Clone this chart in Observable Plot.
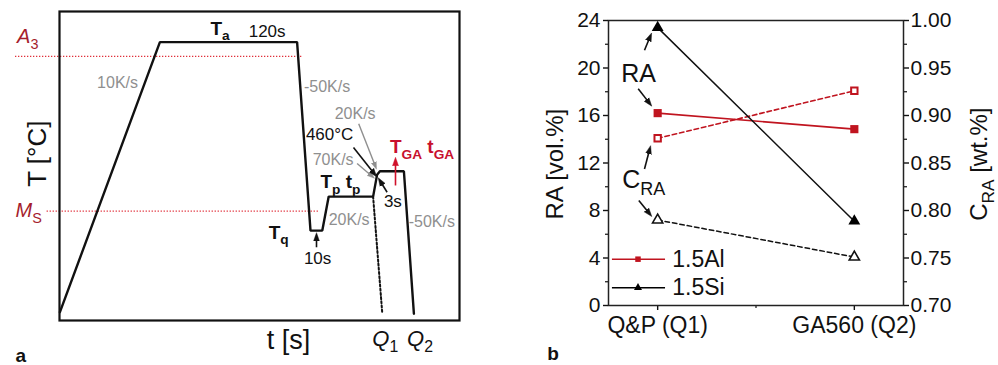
<!DOCTYPE html>
<html>
<head>
<meta charset="utf-8">
<script src="https://cdn.jsdelivr.net/npm/d3@7"></script>
<script src="https://cdn.jsdelivr.net/npm/@observablehq/plot@0.6"></script>
<style>
  html, body { margin: 0; padding: 0; background: #fff; }
  #wrap { position: relative; width: 998px; height: 365px; overflow: hidden; }
  #pa { position: absolute; left: 0; top: 0; }
  #pb { position: absolute; left: 540px; top: 0; }
  svg { display: block; }
</style>
</head>
<body>
<div id="wrap"><div id="pa"></div><div id="pb"></div></div>
<script>
// ---------- Panel a: schematic heat-treatment cycle (normalized units 0–100) ----------
const cycleTime = [0.1, 25.1, 59.4, 62.75, 65.7, 67.3, 78.4, 79.4, 80.1, 86.1, 88.6];
const cycleTemp = [2.7, 90.1, 90.1, 29.1, 29.1, 40.1, 40.1, 47.2, 48.3, 48.3, 2.2];
const q1Time = [78.4, 80.7];
const q1Temp = [40.1, 2.2];
const a3Level = 85.5, a3Span = [-11, 60.9];
const msLevel = 35.4, msSpan = [-3.1, 64.8];

const blackLabelsA = [
  {label: "120s", x: 47.3, y: 93.6},
  {label: "460°C", x: 61.6, y: 60.3},
  {label: "3s", x: 81.1, y: 38.5},
  {label: "10s", x: 61.1, y: 20.1}
];
const boldLabelsA = [
  {label: "T_{a}", x: 37.75, y: 94.5},
  {label: "T_{p} t_{p}", x: 65.25, y: 44.8},
  {label: "T_{q}", x: 52.3, y: 28.5}
];
const grayLabelsA = [
  {label: "10K/s", x: 9.4, y: 76.8},
  {label: "-50K/s", x: 61.1, y: 75.5},
  {label: "20K/s", x: 68.8, y: 66.9},
  {label: "70K/s", x: 63.3, y: 51.9},
  {label: "20K/s", x: 67.3, y: 32.5},
  {label: "-50K/s", x: 87.3, y: 31.8}
];
const redBoldLabelsA = [{label: "T_{GA} t_{GA}", x: 82.6, y: 56.2}];
const phaseLabelsA = [
  {label: "A_{3}", x: -10.6, y: 91.8},
  {label: "M_{S}", x: -11, y: 35.7}
];
const quenchLabelsA = [
  {label: "Q_{1}", x: 78.2, y: -5.9},
  {label: "Q_{2}", x: 86.9, y: -5.9}
];
const blackArrowsA = [
  {x1: 64.25, y1: 23.7, x2: 64.25, y2: 27.4},
  {x1: 73.5, y1: 56.0, x2: 78.8, y2: 47.3},
  {x1: 81.9, y1: 41.5, x2: 80.1, y2: 45.3}
];
const grayArrowsA = [
  {x1: 74.8, y1: 63.7, x2: 79.0, y2: 49.8},
  {x1: 74.4, y1: 50.8, x2: 78.2, y2: 46.6}
];
const redArrowsA = [{x1: 84, y1: 43.7, x2: 84, y2: 51.8}];

// ---------- Panel b data ----------
const conditions = ["Q&P (Q1)", "GA560 (Q2)"];
const condPos = [0, 1];
const raAl = [16.2, 14.85];     // RA [vol.%], 1.5Al
const raSi = [23.4, 7.1];       // RA [vol.%], 1.5Si
const craAl = [0.876, 0.926];   // C_RA [wt.%], 1.5Al
const craSi = [0.790, 0.751];   // C_RA [wt.%], 1.5Si
const raTicks = [0, 4, 8, 12, 16, 20, 24];
const raMinor = [2, 6, 10, 14, 18, 22];
const craTicks = [0.70, 0.75, 0.80, 0.85, 0.90, 0.95, 1.00];
const craDomain = [0.70, 1.00];

const FONT = "Liberation Sans, Arial, Helvetica, sans-serif";
const RED = "#c0141f";
const DARKRED = "#a51d2d";
const GRAY = "#8f8f8f";

const craToRa = c => (c - craDomain[0]) / (craDomain[1] - craDomain[0]) * 24;

function subscripts(svg) {
  d3.select(svg).selectAll("text").each(function () {
    const s = this.textContent;
    if (!s.includes("_{")) return;
    const parts = s.split(/(_\{[^}]*\})/).filter(p => p.length);
    this.textContent = "";
    let wasSub = false;
    for (const p of parts) {
      const sub = p.startsWith("_{");
      const ts = d3.select(this).append("tspan").text(sub ? p.slice(2, -1) : p);
      if (sub) ts.attr("font-size", "72%").attr("dy", "0.42em").attr("font-style", "normal");
      else if (wasSub) ts.attr("dy", "-0.3em");
      wasSub = sub;
    }
  });
}
function filledMarkers(svg) {
  d3.select(svg).selectAll("marker").each(function () {
    const m = d3.select(this);
    m.attr("fill", m.attr("stroke")).attr("stroke-width", 0.4);
    m.select("path").attr("d", "M-5,-2.8L3,0L-5,2.8Z");
  });
}
function tickLabelSize(svg, axis, size) {
  d3.select(svg).selectAll(`g[aria-label="${axis}-axis tick label"]`)
    .attr("font-size", size)
    .selectAll("text").attr("font-size", size);
}

// ---------- Panel a ----------
const cycle = cycleTime.map((t, i) => ({t, T: cycleTemp[i]}));
const q1 = q1Time.map((t, i) => ({t, T: q1Temp[i]}));

const plotA = Plot.plot({
  width: 480, height: 365,
  marginLeft: 59, marginRight: 21, marginTop: 11, marginBottom: 45,
  style: {fontFamily: FONT, background: "white"},
  x: {domain: [0, 100], axis: null},
  y: {domain: [0, 100], axis: null},
  marks: [
    Plot.ruleY([a3Level], {x1: a3Span[0], x2: a3Span[1], stroke: "#e0303a", strokeWidth: 1.2, strokeDasharray: "1.3,1.7"}),
    Plot.ruleY([msLevel], {x1: msSpan[0], x2: msSpan[1], stroke: "#e0303a", strokeWidth: 1.2, strokeDasharray: "1.3,1.7"}),
    Plot.line(q1, {x: "t", y: "T", stroke: "#111", strokeWidth: 2, strokeDasharray: "2,2.2"}),
    Plot.line(cycle, {x: "t", y: "T", stroke: "#111", strokeWidth: 2.4, strokeLinejoin: "miter"}),
    Plot.frame({stroke: "#111", strokeWidth: 2.2}),
    Plot.link(grayArrowsA, {x1: "x1", y1: "y1", x2: "x2", y2: "y2", stroke: GRAY, strokeWidth: 1.4, markerEnd: "arrow"}),
    Plot.link(blackArrowsA, {x1: "x1", y1: "y1", x2: "x2", y2: "y2", stroke: "#111", strokeWidth: 1.6, markerEnd: "arrow"}),
    Plot.link(redArrowsA, {x1: "x1", y1: "y1", x2: "x2", y2: "y2", stroke: "#d0102a", strokeWidth: 1.6, markerEnd: "arrow"}),
    Plot.text(grayLabelsA, {x: "x", y: "y", text: "label", textAnchor: "start", fill: GRAY, fontSize: 16}),
    Plot.text(blackLabelsA, {x: "x", y: "y", text: "label", textAnchor: "start", fill: "#111", fontSize: 17}),
    Plot.text(boldLabelsA, {x: "x", y: "y", text: "label", textAnchor: "start", fill: "#111", fontSize: 19, fontWeight: "bold"}),
    Plot.text(redBoldLabelsA, {x: "x", y: "y", text: "label", textAnchor: "start", fill: "#c8102e", fontSize: 19, fontWeight: "bold"}),
    Plot.text(phaseLabelsA, {x: "x", y: "y", text: "label", textAnchor: "start", fill: DARKRED, fontSize: 20, fontStyle: "italic"}),
    Plot.text(quenchLabelsA, {x: "x", y: "y", text: "label", textAnchor: "start", fill: "#111", fontSize: 22, fontStyle: "italic"}),
    Plot.text(["T [°C]"], {x: -5.5, y: 54, text: d => d, rotate: -90, textAnchor: "middle", fill: "#111", fontSize: 26}),
    Plot.text(["t [s]"], {x: 57.25, y: -6.5, text: d => d, textAnchor: "middle", fill: "#111", fontSize: 27}),
    Plot.text(["a"], {x: -11, y: -11.4, text: d => d, textAnchor: "start", fill: "#111", fontSize: 19, fontWeight: "bold"})
  ]
});
subscripts(plotA); filledMarkers(plotA);
document.getElementById("pa").appendChild(plotA);

// ---------- Panel b ----------
const alRA = condPos.map((x, i) => ({x, y: raAl[i]}));
const siRA = condPos.map((x, i) => ({x, y: raSi[i]}));
const alC = condPos.map((x, i) => ({x, y: craToRa(craAl[i])}));
const siC = condPos.map((x, i) => ({x, y: craToRa(craSi[i])}));
const craPos = craTicks.map(craToRa);
const craMinor = craTicks.slice(1).map((c, i) => craToRa((c + craTicks[i]) / 2));

const arrowsB = [
  {x1: -0.067, y1: 21.5, x2: -0.037, y2: 22.7},
  {x1: -0.099, y1: 18.25, x2: -0.04, y2: 17.0},
  {x1: -0.067, y1: 11.5, x2: -0.04, y2: 13.2},
  {x1: -0.096, y1: 8.84, x2: -0.04, y2: 7.7}
];
const raLabelB = [{label: "RA", x: -0.0975, y: 19.5}];
const craLabelB = [{label: "C_{RA}", x: -0.18, y: 10.6}];
const legendRows = [
  {name: "1.5Al", y: 3.9, color: RED, symbol: "square", r: 4.6},
  {name: "1.5Si", y: 1.5, color: "#000", symbol: "triangle", r: 4.2}
];
const legendX = [-0.23, 0.04], legendMarkX = -0.1, legendTextX = 0.074;

const plotB = Plot.plot({
  width: 458, height: 365,
  marginLeft: 68, marginRight: 95, marginTop: 20, marginBottom: 60,
  style: {fontFamily: FONT, background: "white", color: "#111"},
  x: {domain: [-0.25, 1.25]},
  y: {domain: [0, 24]},
  marks: [
    Plot.axisY({ticks: raTicks, tickSize: 5, tickPadding: 3, label: null, strokeWidth: 1.4}),
    Plot.axisY({ticks: raMinor, tickSize: 3, text: null, label: null, strokeWidth: 1.2}),
    Plot.axisY({anchor: "right", ticks: craPos, tickFormat: (d, i) => craTicks[i].toFixed(2), tickSize: 5, tickPadding: 2, label: null, strokeWidth: 1.4}),
    Plot.axisY({anchor: "right", ticks: craMinor, tickSize: 3, text: null, label: null, strokeWidth: 1.2}),
    Plot.axisX({ticks: condPos, tickFormat: d => conditions[d], tickSize: 5, tickPadding: 6, label: null, strokeWidth: 1.4}),
    Plot.axisX({ticks: [0.5], tickSize: 3, text: null, label: null, strokeWidth: 1.2}),
    Plot.frame({stroke: "#222", strokeWidth: 1.5}),
    Plot.line(alC, {x: "x", y: "y", stroke: RED, strokeWidth: 1.6, strokeDasharray: "4.5,3"}),
    Plot.line(siC, {x: "x", y: "y", stroke: "#111", strokeWidth: 1.5, strokeDasharray: "4.5,3"}),
    Plot.line(alRA, {x: "x", y: "y", stroke: RED, strokeWidth: 1.6}),
    Plot.line(siRA, {x: "x", y: "y", stroke: "#111", strokeWidth: 1.5}),
    Plot.dot(alC, {x: "x", y: "y", symbol: "square", r: 3.6, fill: "white", stroke: RED, strokeWidth: 2}),
    Plot.dot(siC, {x: "x", y: "y", symbol: "triangle", r: 3.8, fill: "white", stroke: "#111", strokeWidth: 1.6}),
    Plot.dot(alRA, {x: "x", y: "y", symbol: "square", r: 4.6, fill: RED}),
    Plot.dot(siRA, {x: "x", y: "y", symbol: "triangle", r: 4.4, fill: "#000"}),
    Plot.link(arrowsB, {x1: "x1", y1: "y1", x2: "x2", y2: "y2", stroke: "#111", strokeWidth: 1.6, markerEnd: "arrow"}),
    Plot.text(raLabelB, {x: "x", y: "y", text: "label", textAnchor: "middle", fill: "#111", fontSize: 25}),
    Plot.text(craLabelB, {x: "x", y: "y", text: "label", textAnchor: "start", fill: "#111", fontSize: 25}),
    Plot.ruleY(legendRows, {y: "y", x1: legendX[0], x2: legendX[1], stroke: "color", strokeWidth: 1.6}),
    Plot.dot(legendRows, {x: legendMarkX, y: "y", symbol: "symbol", r: "r", fill: "color"}),
    Plot.text(legendRows, {x: legendTextX, y: "y", text: "name", textAnchor: "start", fill: "#111", fontSize: 23}),
    Plot.text(["RA [vol.%]"], {x: -0.519, y: 11.9, text: d => d, rotate: -90, textAnchor: "middle", fill: "#111", fontSize: 24}),
    Plot.text(["C_{RA} [wt.%]"], {x: 1.636, y: 11.9, text: d => d, rotate: -90, textAnchor: "middle", fill: "#111", fontSize: 24}),
    Plot.text(["b"], {x: -0.562, y: -4.1, text: d => d, textAnchor: "start", fill: "#111", fontSize: 19, fontWeight: "bold"})
  ]
});
subscripts(plotB); filledMarkers(plotB);
tickLabelSize(plotB, "y", 21);
tickLabelSize(plotB, "x", 23);
document.getElementById("pb").appendChild(plotB);
</script>
</body>
</html>
